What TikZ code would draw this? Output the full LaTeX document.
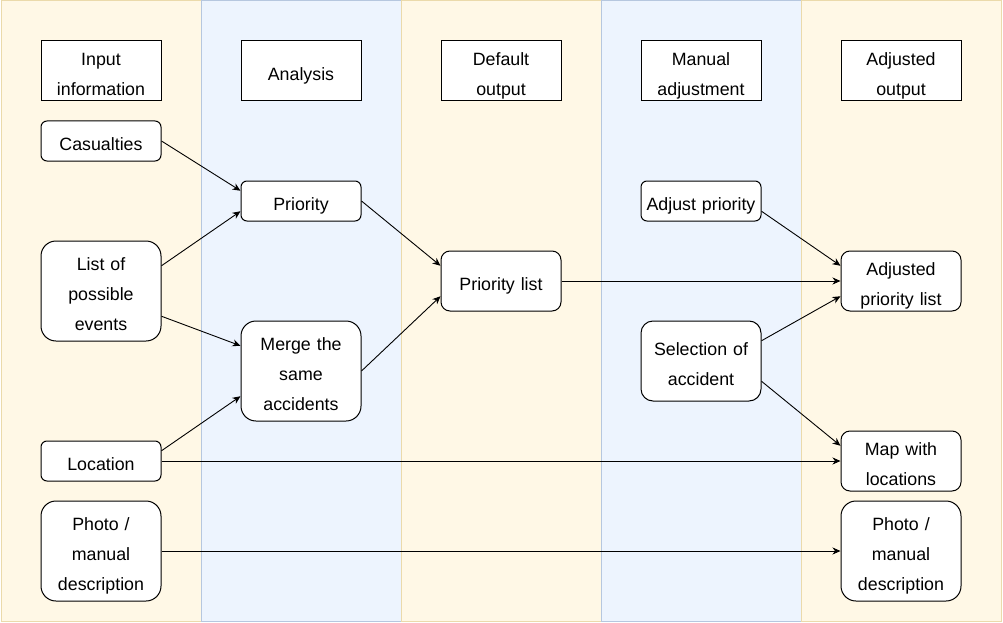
\documentclass[tikz,border=0pt]{standalone}
\usepackage{fontspec}
\setmainfont{Liberation Sans}
\usepackage{tikz}
\usetikzlibrary{positioning, calc, arrows.meta}
\definecolor{laneyellow}{HTML}{FFF8E6}
\definecolor{laneyellowline}{HTML}{EBDAAB}
\definecolor{laneblue}{HTML}{EDF4FE}
\definecolor{laneblueline}{HTML}{B6C7DF}

\begin{document}
\begin{tikzpicture}[x = 1pt, y = -1pt, line width = 1pt,
  lanea/.style={fill = laneyellow, draw = laneyellowline},
  laneb/.style={fill = laneblue, draw = laneblueline},
  head/.style={draw, fill = white, align = center, text width = 120pt, inner sep = 0pt, minimum width = 120pt, minimum height = 60pt, font = \fontsize{17.8}{30}\selectfont,
    execute at begin node = {\rule{0pt}{22.6pt}}, execute at end node = {\rule[-4pt]{0pt}{4pt}}},
  box/.style={head, rounded corners = 0.15*#1, minimum height = #1},
  link/.style={-{Stealth[length = 8pt, width = 7pt, inset = 2.5pt]}, line width = 0.9pt}]
  \useasboundingbox (0,0) rectangle (1003,623);

  % lanes
  \filldraw [lanea] (1,1) rectangle (201,621);
  \filldraw [laneb] (201,1) rectangle (401,621);
  \filldraw [lanea] (401,1) rectangle (601,621);
  \filldraw [laneb] (601,1) rectangle (801,621);
  \filldraw [lanea] (801,1) rectangle (1001,621);

  % headers
  \node [head] (in_head) at (101,71) {Input\\information};
  \node [head] (an_head) at (301,71) {Analysis};
  \node [head] (def_head) at (501,71) {Default\\output};
  \node [head] (man_head) at (701,71) {Manual\\adjustment};
  \node [head] (adj_head) at (901,71) {Adjusted\\output};

  % nodes
  \node [box = 40pt] (cas) at (101,141) {Casualties};
  \node [box = 100pt] (events) at (101,291) {List of\\possible\\events};
  \node [box = 40pt] (loc) at (101,461) {Location};
  \node [box = 100pt] (photo_in) at (101,551) {Photo /\\manual\\description};
  \node [box = 40pt] (prio) at (301,201) {Priority};
  \node [box = 100pt] (merge) at (301,371) {Merge the\\same\\accidents};
  \node [box = 60pt] (prio_list) at (501,281) {Priority list};
  \node [box = 40pt] (adj_prio) at (701,201) {Adjust priority};
  \node [box = 80pt] (select) at (701,361) {Selection of\\accident};
  \node [box = 60pt] (adj_list) at (901,281) {Adjusted\\priority list};
  \node [box = 60pt] (map) at (901,461) {Map with\\locations};
  \node [box = 100pt] (photo_out) at (901,551) {Photo /\\manual\\description};

  % edges
  \draw [link] (cas.east) to ($(prio.north west)!.25!(prio.south west)$);
  \draw [link] ($(events.north east)!.25!(events.south east)$) to ($(prio.north west)!.75!(prio.south west)$);
  \draw [link] ($(events.north east)!.75!(events.south east)$) to ($(merge.north west)!.25!(merge.south west)$);
  \draw [link] ($(loc.north east)!.25!(loc.south east)$) to ($(merge.north west)!.75!(merge.south west)$);
  \draw [link] (loc.east) to (map.west);
  \draw [link] (photo_in.east) to (photo_out.west);
  \draw [link] (prio.east) to ($(prio_list.north west)!.25!(prio_list.south west)$);
  \draw [link] (merge.east) to ($(prio_list.north west)!.75!(prio_list.south west)$);
  \draw [link] (prio_list.east) to (adj_list.west);
  \draw [link] ($(adj_prio.north east)!.75!(adj_prio.south east)$) to ($(adj_list.north west)!.25!(adj_list.south west)$);
  \draw [link] ($(select.north east)!.25!(select.south east)$) to ($(adj_list.north west)!.75!(adj_list.south west)$);
  \draw [link] ($(select.north east)!.75!(select.south east)$) to ($(map.north west)!.25!(map.south west)$);
\end{tikzpicture}
\end{document}
